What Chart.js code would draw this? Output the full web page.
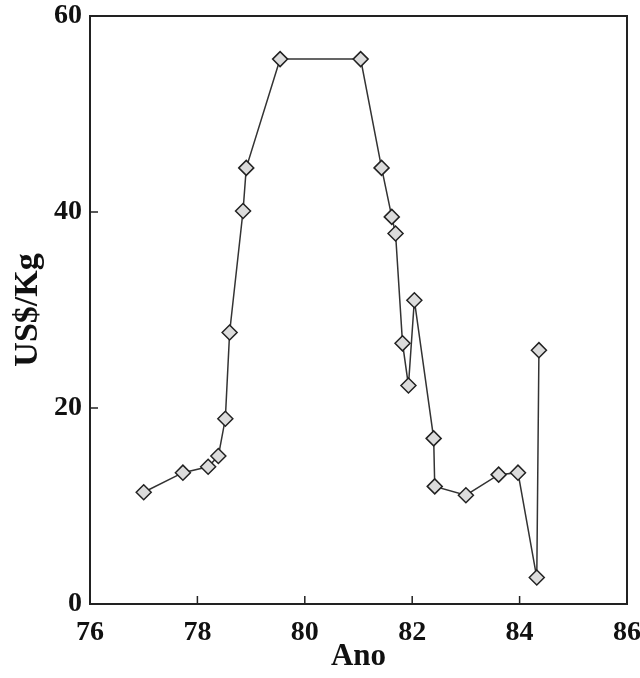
<!DOCTYPE html>
<html>
<head>
<meta charset="utf-8">
<script src="https://cdn.jsdelivr.net/npm/chart.js@4"></script>
<style>
  html, body { margin: 0; padding: 0; background: #fff; }
  #wrap { width: 640px; height: 678px; position: relative; }
</style>
</head>
<body>
<div id="wrap"><canvas id="priceCanvas"></canvas></div>
<script>
// ano (x) e preço em US$/Kg (y), na ordem em que a linha os liga
const anos = [77.0, 77.73, 78.2, 78.39, 78.52, 78.6, 78.85, 78.91, 79.54, 81.04,
  81.43, 81.62, 81.69, 81.82, 81.93, 82.04, 82.4, 82.42, 83.0, 83.61, 83.97, 84.32, 84.36];
const precos = [11.4, 13.4, 14.0, 15.1, 18.9, 27.7, 40.1, 44.5, 55.6, 55.6,
  44.5, 39.5, 37.8, 26.6, 22.3, 31.0, 16.9, 12.0, 11.1, 13.2, 13.4, 2.7, 25.9];
const xTicks = [76, 78, 80, 82, 84, 86];
const yTicks = [0, 20, 40, 60];

const pontos = anos.map((a, i) => ({ x: a, y: precos[i] }));
const fonteEixo = { family: "'Liberation Serif', 'Times New Roman', serif", weight: 'bold' };

// moldura fechada e marcas de escala para dentro
const molduraPlugin = {
  id: 'moldura',
  afterDraw(chart) {
    const { ctx, chartArea: a, scales } = chart;
    ctx.save();
    ctx.strokeStyle = '#222';
    ctx.lineWidth = 2;
    ctx.strokeRect(a.left, a.top, a.right - a.left, a.bottom - a.top);
    ctx.lineWidth = 1.5;
    ctx.beginPath();
    xTicks.forEach(v => {
      const px = scales.x.getPixelForValue(v);
      ctx.moveTo(px, a.bottom);
      ctx.lineTo(px, a.bottom - 8);
    });
    yTicks.forEach(v => {
      const py = scales.y.getPixelForValue(v);
      ctx.moveTo(a.left, py);
      ctx.lineTo(a.left + 8, py);
    });
    ctx.stroke();
    ctx.restore();
  }
};

new Chart(document.getElementById('priceCanvas'), {
  type: 'scatter',
  data: {
    datasets: [{
      data: pontos,
      showLine: true,
      borderColor: '#333',
      borderWidth: 1.5,
      pointStyle: 'rectRot',
      pointRadius: 7.5,
      pointBackgroundColor: '#dcdcdc',
      pointBorderColor: '#222',
      pointBorderWidth: 1.5
    }]
  },
  options: {
    responsive: true,
    maintainAspectRatio: false,
    animation: false,
    layout: { padding: { left: 0, right: 13, top: 16, bottom: 0 } },
    plugins: { legend: { display: false }, tooltip: { enabled: false } },
    scales: {
      x: {
        type: 'linear',
        min: 76, max: 86,
        afterBuildTicks: s => { s.ticks = xTicks.map(v => ({ value: v })); },
        afterFit: s => { s.height = 74; s.paddingLeft = 0; s.paddingRight = 0; },
        grid: { display: false, drawTicks: false },
        border: { display: false },
        ticks: { color: '#111', padding: 12, font: { ...fonteEixo, size: 28 } },
        title: { display: true, text: 'Ano', color: '#111', padding: { top: 0, bottom: 2 }, font: { ...fonteEixo, size: 31 } }
      },
      y: {
        min: 0, max: 60,
        afterBuildTicks: s => { s.ticks = yTicks.map(v => ({ value: v })); },
        afterFit: s => { s.width = 90; s.paddingTop = 0; s.paddingBottom = 0; },
        grid: { display: false, drawTicks: false },
        border: { display: false },
        ticks: { color: '#111', padding: 8, font: { ...fonteEixo, size: 28 } },
        title: { display: true, text: 'US$/Kg', color: '#111', padding: { top: 8, bottom: 0 }, font: { ...fonteEixo, size: 34 } }
      }
    }
  },
  plugins: [molduraPlugin]
});
</script>
</body>
</html>
